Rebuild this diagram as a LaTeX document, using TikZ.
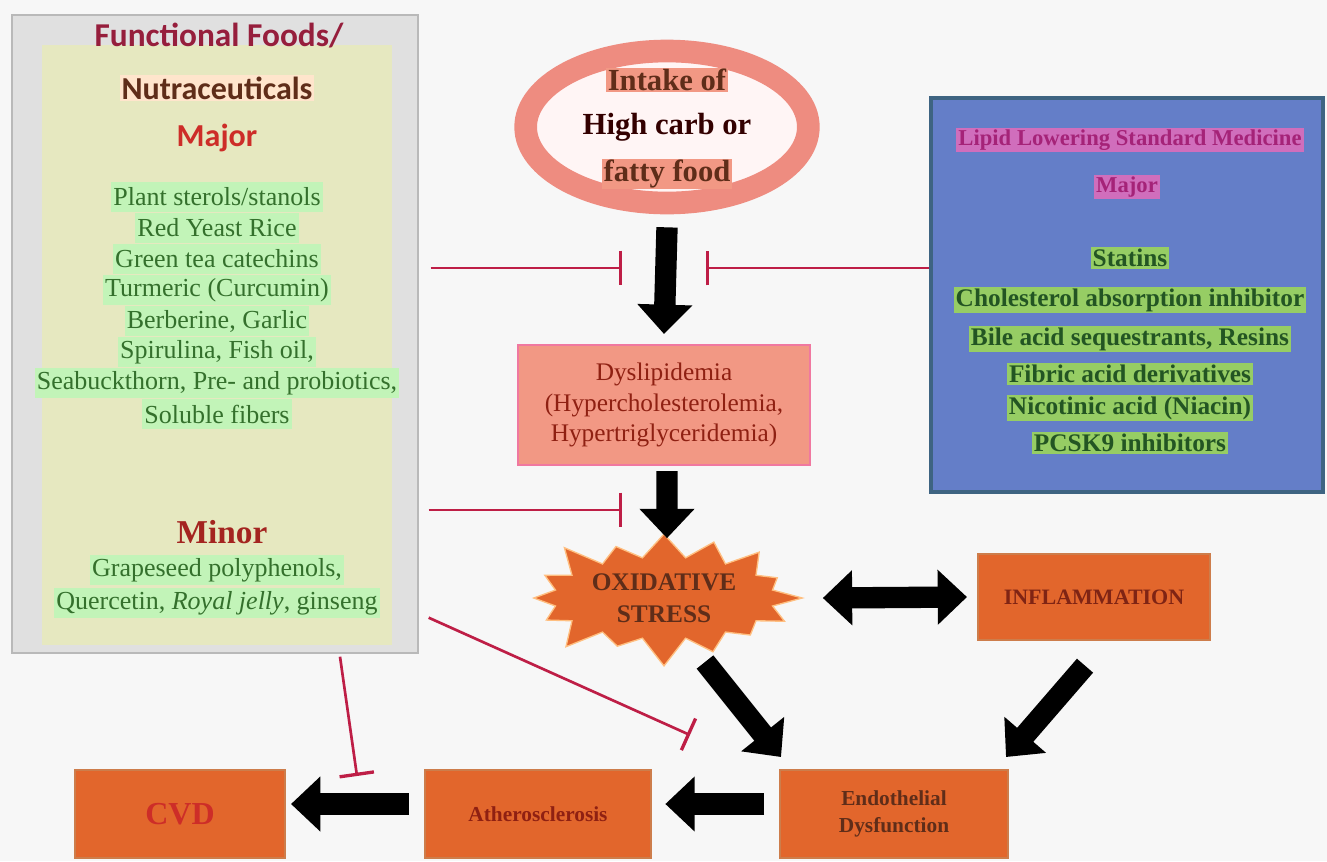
\documentclass[tikz,border=0pt]{standalone}
\usepackage{fontspec}
\setmainfont{Liberation Serif}
\newfontfamily\carlito{Carlito}
\usepackage{tikz}
\usetikzlibrary{shapes.geometric, shapes.symbols, arrows.meta}
\usetikzlibrary{calc}
\usetikzlibrary{positioning}
\definecolor{bgpaper}{RGB}{247,247,247}
\definecolor{beige}{RGB}{230,232,192}
\definecolor{framegray}{RGB}{224,224,224}
\definecolor{leafgreen}{RGB}{194,244,184}
\definecolor{darkleaf}{RGB}{52,112,44}
\definecolor{maroonink}{RGB}{150,30,60}
\definecolor{brownink}{RGB}{95,45,25}
\definecolor{redink}{RGB}{205,45,40}
\definecolor{salmon}{RGB}{242,152,132}
\definecolor{salmonring}{RGB}{238,140,128}
\definecolor{pinkedge}{RGB}{240,120,160}
\definecolor{burnt}{RGB}{226,102,44}
\definecolor{burntedge}{RGB}{205,125,75}
\definecolor{drugblue}{RGB}{100,126,200}
\definecolor{drugedge}{RGB}{62,100,130}
\definecolor{drugpink}{RGB}{208,110,188}
\definecolor{druginkpink}{RGB}{165,35,120}
\definecolor{druggreen}{RGB}{150,205,100}
\definecolor{druginkgreen}{RGB}{35,85,35}
\definecolor{inhibit}{RGB}{190,30,70}
\tikzset{
  box/.style={draw=burntedge, line width=1.5pt, fill=burnt, inner sep=0pt},
  bigarrow/.style={line width=16pt, -{Triangle[length=22pt,width=40pt]}},
  bigboth/.style={line width=16pt, {Triangle[length=22pt,width=40pt]}-{Triangle[length=22pt,width=40pt]}},
  blocker/.style={draw=inhibit, line width=2pt, -{Bar[width=26pt,line width=2.5pt]}},
  greenline/.style={fill=leafgreen, text=darkleaf, inner sep=1.5pt, minimum height=23pt, font=\fontsize{19.5}{21}\selectfont},
  drugline/.style={fill=druggreen, text=druginkgreen, inner sep=1.5pt, font=\bfseries\fontsize{19}{21}\selectfont},
}

\begin{document}
\begin{tikzpicture}[x=0.75pt, y=-0.75pt]
  \fill[bgpaper] (0,0) rectangle (1327,861);
  \useasboundingbox (0,0) rectangle (1327,861);

  \node[draw=gray!55, line width=1pt, fill=framegray, minimum width=304.5pt, minimum height=478.5pt] (frame) at (215,334) {};
  \node[fill=beige, inner sep=0pt, minimum width=262.5pt, minimum height=450pt] (foods) at (217,345) {};
  \node[text=maroonink, font=\carlito\bfseries\fontsize{25}{27}\selectfont] (title1) at (219,36) {Functional Foods/};
  \node[fill=orange!20, inner sep=1pt, text=brownink, font=\carlito\bfseries\fontsize{24}{26}\selectfont] (title2) at (217,88) {Nutraceuticals};
  \node[text=redink, font=\carlito\bfseries\fontsize{24}{26}\selectfont] (major) at (217,138) {Major};
  \foreach \txt [count=\i] in {Plant sterols/stanols, Red Yeast Rice, Green tea catechins, Turmeric (Curcumin), {Berberine, Garlic}, {Spirulina, Fish oil,}, {Seabuckthorn, Pre- and probiotics,}, Soluble fibers}
    \node[greenline] (food\i) at (217,166+31*\i) {\txt};
  \node[text=redink!80!black, font=\bfseries\fontsize{25}{27}\selectfont] (minor) at (222,532) {Minor};
  \node[greenline] (minor1) at (217,570) {Grapeseed polyphenols,};
  \node[greenline] (minor2) at (217,603) {Quercetin, \textit{Royal jelly}, ginseng};

  \node[ellipse, draw=salmonring, line width=17pt, fill=red!4, minimum width=212pt, minimum height=114pt] (intake) at (667,127) {};
  \node[fill=salmon, text=brownink, inner sep=1pt, font=\bfseries\fontsize{23}{25}\selectfont] (intake1) at (667,80) {Intake of};
  \node[text=black!80!red, inner sep=1pt, font=\bfseries\fontsize{23}{25}\selectfont] (intake2) at (667,127) {High carb or};
  \node[fill=salmon, text=brownink, inner sep=1pt, font=\bfseries\fontsize{23}{25}\selectfont] (intake3) at (667,174) {fatty food};

  \node[draw=pinkedge, line width=1.5pt, fill=salmon, minimum width=219pt, minimum height=90pt, align=center, text=brownink!70!red, font=\fontsize{19}{23}\selectfont] (dys) at (664,405) {Dyslipidemia\\(Hypercholesterolemia,\\Hypertriglyceridemia)};

  \node[starburst, starburst points=16, starburst point height=24pt, fill=burnt, draw=orange!50, line width=1pt, minimum width=214pt, minimum height=86pt, align=center, text=brownink, font=\bfseries\fontsize{19}{24}\selectfont] (oxid) at (664,598) {OXIDATIVE\\STRESS};
  \node[box, minimum width=174pt, minimum height=64pt, text=brownink!80!red, font=\bfseries\fontsize{16.5}{18}\selectfont] (inflam) at (1094,597) {INFLAMMATION};

  \node[draw=drugedge, line width=3pt, fill=drugblue, minimum width=294pt, minimum height=295pt] (drugs) at (1127,295) {};
  \node[fill=drugpink, text=druginkpink, inner sep=1.5pt, font=\bfseries\fontsize{17}{20}\selectfont] (drugtitle) at (1130,140) {Lipid Lowering Standard Medicine};
  \node[fill=drugpink, text=druginkpink, inner sep=1.5pt, font=\bfseries\fontsize{17}{20}\selectfont] (drugmajor) at (1127,187) {Major};
  \foreach \yy/\txt [count=\i] in {258/Statins, 300/Cholesterol absorption inhibitor, 339/{Bile acid sequestrants, Resins}, 374/Fibric acid derivatives, 408/Nicotinic acid (Niacin), 443/PCSK9 inhibitors}
    \node[drugline] (drug\i) at (1130,\yy) {\txt};

  \node[box, minimum width=157.5pt, minimum height=66pt, text=redink, font=\bfseries\fontsize{24}{26}\selectfont] (cvd) at (180,814) {CVD};
  \node[box, minimum width=170pt, minimum height=66pt, text=brownink!70!red, font=\bfseries\fontsize{16}{18}\selectfont] (athero) at (538,814) {Atherosclerosis};
  \node[box, minimum width=171pt, minimum height=66pt, align=center, text=brownink, font=\bfseries\fontsize{16}{20}\selectfont] (endo) at (894,814) {Endothelial\\Dysfunction};

  \draw[bigarrow] ($(intake.south)+(0,13)$) -- ($(dys.north)+(0,-10)$);
  \draw[bigarrow] ($(dys.south)+(3,5)$) -- ($(oxid.north)+(3,5)$);
  \draw[bigboth] ($(oxid.east)+(18,0)$) -- ($(inflam.west)+(-10,0)$);
  \draw[bigarrow] ($(oxid.center)+(41,64)$) -- ($(endo.north west)+(2,-12)$);
  \draw[bigarrow] ($(inflam.south)+(-9,25)$) -- ($(endo.north east)+(-3,-12)$);
  \draw[bigarrow] ($(endo.west)+(-15,-10)$) -- ($(athero.east)+(13,-10)$);
  \draw[bigarrow] ($(athero.west)+(-15,-10)$) -- ($(cvd.east)+(5,-10)$);

  \coordinate (stopL) at (622,268);
  \coordinate (stopR) at (706,268);
  \coordinate (stopD) at (622,510);
  \coordinate (stopA) at (690,735);
  \coordinate (stopC) at (357,776);
  \draw[blocker] ($(frame.east |- stopL)+(12,0)$) -- (stopL);
  \draw[blocker] (drugs.west |- stopR) -- (stopR);
  \draw[blocker] ($(frame.east |- stopD)+(10,0)$) -- (stopD);
  \draw[blocker] ($(frame.south east)+(10,-36)$) -- (stopA);
  \draw[blocker] ($(frame.south)+(125,3)$) -- (stopC);
\end{tikzpicture}
\end{document}
